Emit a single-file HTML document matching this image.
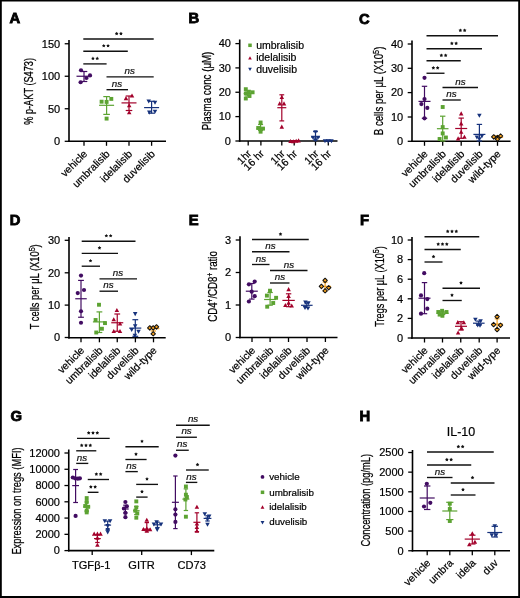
<!DOCTYPE html>
<html><head><meta charset="utf-8"><style>
html,body{margin:0;padding:0;background:#fff;}
body{width:520px;height:598px;overflow:hidden;}
svg{display:block;font-family:"Liberation Sans", sans-serif;will-change:transform;}
</style></head><body>
<svg width="520" height="598" viewBox="0 0 520 598">
<rect x="0" y="0" width="520" height="598" fill="#fff"/>
<path d="M0 0H520V598H0Z M1.8 1.6V596.1H518.2V1.6Z" fill="#000" fill-rule="evenodd"/>
<text x="9.6" y="23.4" font-size="14.8" font-weight="bold" stroke="#000" stroke-width="0.85">A</text>
<line x1="69" y1="40" x2="69" y2="142.1" stroke="#000" stroke-width="1.6"/>
<line x1="68.2" y1="141.3" x2="166" y2="141.3" stroke="#000" stroke-width="1.6"/>
<line x1="64.7" y1="43.75" x2="69" y2="43.75" stroke="#000" stroke-width="1.3"/>
<text x="60.2" y="47.5" font-size="11" text-anchor="end" stroke="#000" stroke-width="0.2">150</text>
<line x1="64.7" y1="76.25" x2="69" y2="76.25" stroke="#000" stroke-width="1.3"/>
<text x="60.2" y="80" font-size="11" text-anchor="end" stroke="#000" stroke-width="0.2">100</text>
<line x1="64.7" y1="108.75" x2="69" y2="108.75" stroke="#000" stroke-width="1.3"/>
<text x="60.2" y="112.5" font-size="11" text-anchor="end" stroke="#000" stroke-width="0.2">50</text>
<line x1="64.7" y1="141.3" x2="69" y2="141.3" stroke="#000" stroke-width="1.3"/>
<text x="60.2" y="145.05" font-size="11" text-anchor="end" stroke="#000" stroke-width="0.2">0</text>
<line x1="84" y1="141.3" x2="84" y2="145.8" stroke="#000" stroke-width="1.3"/>
<line x1="106.5" y1="141.3" x2="106.5" y2="145.8" stroke="#000" stroke-width="1.3"/>
<line x1="129" y1="141.3" x2="129" y2="145.8" stroke="#000" stroke-width="1.3"/>
<line x1="151.6" y1="141.3" x2="151.6" y2="145.8" stroke="#000" stroke-width="1.3"/>
<text x="0" y="0" font-size="12.5" text-anchor="middle" stroke="#000" stroke-width="0.25" transform="translate(33.1 91.4) rotate(-90) scale(0.7356 1)">% p-AKT (S473)</text>
<text x="88" y="154.5" font-size="10.5" text-anchor="end" transform="rotate(-45 88 154.5)" stroke="#000" stroke-width="0.2">vehicle</text>
<text x="110.5" y="154.5" font-size="10.5" text-anchor="end" transform="rotate(-45 110.5 154.5)" stroke="#000" stroke-width="0.2">umbralisib</text>
<text x="133" y="154.5" font-size="10.5" text-anchor="end" transform="rotate(-45 133 154.5)" stroke="#000" stroke-width="0.2">idelalisib</text>
<text x="155.6" y="154.5" font-size="10.5" text-anchor="end" transform="rotate(-45 155.6 154.5)" stroke="#000" stroke-width="0.2">duvelisib</text>
<line x1="83.3" y1="39" x2="153.7" y2="39" stroke="#111" stroke-width="1.35"/>
<polygon points="116.65,31.7 117.26,32.75 118.46,33.01 117.64,33.92 117.77,35.14 116.65,34.65 115.53,35.14 115.66,33.92 114.84,33.01 116.04,32.75" fill="#111"/>
<polygon points="120.95,31.7 121.56,32.75 122.76,33.01 121.94,33.92 122.07,35.14 120.95,34.65 119.83,35.14 119.96,33.92 119.14,33.01 120.34,32.75" fill="#111"/>
<line x1="83.3" y1="51.2" x2="127.8" y2="51.2" stroke="#111" stroke-width="1.35"/>
<polygon points="103.75,43.9 104.36,44.95 105.56,45.21 104.74,46.12 104.87,47.34 103.75,46.85 102.63,47.34 102.76,46.12 101.94,45.21 103.14,44.95" fill="#111"/>
<polygon points="108.05,43.9 108.66,44.95 109.86,45.21 109.04,46.12 109.17,47.34 108.05,46.85 106.93,47.34 107.06,46.12 106.24,45.21 107.44,44.95" fill="#111"/>
<line x1="83.3" y1="63.9" x2="106.6" y2="63.9" stroke="#111" stroke-width="1.35"/>
<polygon points="92.95,56.6 93.56,57.65 94.76,57.91 93.94,58.82 94.07,60.04 92.95,59.55 91.83,60.04 91.96,58.82 91.14,57.91 92.34,57.65" fill="#111"/>
<polygon points="97.25,56.6 97.86,57.65 99.06,57.91 98.24,58.82 98.37,60.04 97.25,59.55 96.13,60.04 96.26,58.82 95.44,57.91 96.64,57.65" fill="#111"/>
<line x1="106.5" y1="76.8" x2="153.7" y2="76.8" stroke="#111" stroke-width="1.35"/>
<text x="129.8" y="74" font-size="9.8" text-anchor="middle" font-style="italic" fill="#111" stroke="#111" stroke-width="0.2">ns</text>
<line x1="106.5" y1="89.7" x2="128" y2="89.7" stroke="#111" stroke-width="1.35"/>
<text x="117" y="86.9" font-size="9.8" text-anchor="middle" font-style="italic" fill="#111" stroke="#111" stroke-width="0.2">ns</text>
<line x1="84" y1="71.5" x2="84" y2="81.5" stroke="#420c62" stroke-width="1.2"/>
<line x1="80.7" y1="71.5" x2="87.3" y2="71.5" stroke="#420c62" stroke-width="1.2"/>
<line x1="80.7" y1="81.5" x2="87.3" y2="81.5" stroke="#420c62" stroke-width="1.2"/>
<line x1="76.5" y1="76.25" x2="91.5" y2="76.25" stroke="#420c62" stroke-width="1.2"/>
<circle cx="81" cy="70.25" r="2.1" fill="#420c62"/>
<circle cx="90" cy="75.4" r="2.1" fill="#420c62"/>
<circle cx="86.5" cy="78" r="2.1" fill="#420c62"/>
<circle cx="80.6" cy="82.25" r="2.1" fill="#420c62"/>
<line x1="106.6" y1="96.6" x2="106.6" y2="114.4" stroke="#5ca332" stroke-width="1.2"/>
<line x1="103.3" y1="96.6" x2="109.9" y2="96.6" stroke="#5ca332" stroke-width="1.2"/>
<line x1="103.3" y1="114.4" x2="109.9" y2="114.4" stroke="#5ca332" stroke-width="1.2"/>
<line x1="99.1" y1="105.3" x2="114.1" y2="105.3" stroke="#5ca332" stroke-width="1.2"/>
<rect x="99.65" y="99.75" width="3.9" height="3.9" fill="#5ca332"/>
<rect x="104.65" y="99.95" width="3.9" height="3.9" fill="#5ca332"/>
<rect x="109.35" y="96.95" width="3.9" height="3.9" fill="#5ca332"/>
<rect x="104.65" y="116.65" width="3.9" height="3.9" fill="#5ca332"/>
<line x1="129" y1="96" x2="129" y2="110.5" stroke="#a3022b" stroke-width="1.2"/>
<line x1="125.7" y1="96" x2="132.3" y2="96" stroke="#a3022b" stroke-width="1.2"/>
<line x1="125.7" y1="110.5" x2="132.3" y2="110.5" stroke="#a3022b" stroke-width="1.2"/>
<line x1="121.5" y1="102.9" x2="136.5" y2="102.9" stroke="#a3022b" stroke-width="1.2"/>
<path d="M126 96.04L128.26 100.13L123.74 100.13Z" fill="#a3022b"/>
<path d="M132 93.44L134.26 97.53L129.74 97.53Z" fill="#a3022b"/>
<path d="M129.2 103.24L131.46 107.33L126.94 107.33Z" fill="#a3022b"/>
<path d="M129.2 110.14L131.46 114.23L126.94 114.23Z" fill="#a3022b"/>
<line x1="151.6" y1="101.3" x2="151.6" y2="113.2" stroke="#16327c" stroke-width="1.2"/>
<line x1="148.3" y1="101.3" x2="154.9" y2="101.3" stroke="#16327c" stroke-width="1.2"/>
<line x1="148.3" y1="113.2" x2="154.9" y2="113.2" stroke="#16327c" stroke-width="1.2"/>
<line x1="144.1" y1="107.6" x2="159.1" y2="107.6" stroke="#16327c" stroke-width="1.2"/>
<path d="M148.7 103.56L150.96 99.47L146.44 99.47Z" fill="#16327c"/>
<path d="M155 104.76L157.26 100.67L152.74 100.67Z" fill="#16327c"/>
<path d="M149.3 114.66L151.56 110.57L147.04 110.57Z" fill="#16327c"/>
<path d="M155 113.76L157.26 109.67L152.74 109.67Z" fill="#16327c"/>
<text x="188.6" y="22.9" font-size="14.8" font-weight="bold" stroke="#000" stroke-width="0.85">B</text>
<line x1="239.7" y1="39.5" x2="239.7" y2="141.8" stroke="#000" stroke-width="1.6"/>
<line x1="238.9" y1="141" x2="337.5" y2="141" stroke="#000" stroke-width="1.6"/>
<line x1="235.4" y1="43.6" x2="239.7" y2="43.6" stroke="#000" stroke-width="1.3"/>
<text x="230.9" y="47.35" font-size="11" text-anchor="end" stroke="#000" stroke-width="0.2">40</text>
<line x1="235.4" y1="67.9" x2="239.7" y2="67.9" stroke="#000" stroke-width="1.3"/>
<text x="230.9" y="71.65" font-size="11" text-anchor="end" stroke="#000" stroke-width="0.2">30</text>
<line x1="235.4" y1="92.25" x2="239.7" y2="92.25" stroke="#000" stroke-width="1.3"/>
<text x="230.9" y="96" font-size="11" text-anchor="end" stroke="#000" stroke-width="0.2">20</text>
<line x1="235.4" y1="116.6" x2="239.7" y2="116.6" stroke="#000" stroke-width="1.3"/>
<text x="230.9" y="120.35" font-size="11" text-anchor="end" stroke="#000" stroke-width="0.2">10</text>
<line x1="235.4" y1="141" x2="239.7" y2="141" stroke="#000" stroke-width="1.3"/>
<text x="230.9" y="144.75" font-size="11" text-anchor="end" stroke="#000" stroke-width="0.2">0</text>
<line x1="248.2" y1="141" x2="248.2" y2="145.5" stroke="#000" stroke-width="1.3"/>
<line x1="260.9" y1="141" x2="260.9" y2="145.5" stroke="#000" stroke-width="1.3"/>
<line x1="281.8" y1="141" x2="281.8" y2="145.5" stroke="#000" stroke-width="1.3"/>
<line x1="294.2" y1="141" x2="294.2" y2="145.5" stroke="#000" stroke-width="1.3"/>
<line x1="315.5" y1="141" x2="315.5" y2="145.5" stroke="#000" stroke-width="1.3"/>
<line x1="328.3" y1="141" x2="328.3" y2="145.5" stroke="#000" stroke-width="1.3"/>
<text x="0" y="0" font-size="12.5" text-anchor="middle" stroke="#000" stroke-width="0.25" transform="translate(211.2 91) rotate(-90) scale(0.7802 1)">Plasma conc (μM)</text>
<rect x="248.25" y="43.54" width="3.51" height="3.51" fill="#5ca332"/>
<text x="256.2" y="49" font-size="10.5" stroke="#000" stroke-width="0.2">umbralisib</text>
<path d="M250 56.29L251.81 59.56L248.19 59.56Z" fill="#a3022b"/>
<text x="256.2" y="61.3" font-size="10.5" stroke="#000" stroke-width="0.2">idelalisib</text>
<path d="M250 71.01L251.81 67.74L248.19 67.74Z" fill="#16327c"/>
<text x="256.2" y="72.7" font-size="10.5" stroke="#000" stroke-width="0.2">duvelisib</text>
<text x="252" y="154.2" font-size="10.5" text-anchor="end" transform="rotate(-45 252 154.2)" stroke="#000" stroke-width="0.2">1hr</text>
<text x="264.7" y="154.2" font-size="10.5" text-anchor="end" transform="rotate(-45 264.7 154.2)" stroke="#000" stroke-width="0.2">16 hr</text>
<text x="285.6" y="154.2" font-size="10.5" text-anchor="end" transform="rotate(-45 285.6 154.2)" stroke="#000" stroke-width="0.2">1hr</text>
<text x="298" y="154.2" font-size="10.5" text-anchor="end" transform="rotate(-45 298 154.2)" stroke="#000" stroke-width="0.2">16 hr</text>
<text x="319.3" y="154.2" font-size="10.5" text-anchor="end" transform="rotate(-45 319.3 154.2)" stroke="#000" stroke-width="0.2">1hr</text>
<text x="332.1" y="154.2" font-size="10.5" text-anchor="end" transform="rotate(-45 332.1 154.2)" stroke="#000" stroke-width="0.2">16 hr</text>
<line x1="247.7" y1="91" x2="247.7" y2="96" stroke="#5ca332" stroke-width="1.2"/>
<line x1="245.2" y1="91" x2="250.2" y2="91" stroke="#5ca332" stroke-width="1.2"/>
<line x1="245.2" y1="96" x2="250.2" y2="96" stroke="#5ca332" stroke-width="1.2"/>
<line x1="243.7" y1="93.5" x2="251.7" y2="93.5" stroke="#5ca332" stroke-width="1.2"/>
<rect x="243.85" y="87.25" width="3.9" height="3.9" fill="#5ca332"/>
<rect x="246.95" y="89.75" width="3.9" height="3.9" fill="#5ca332"/>
<rect x="250.65" y="90.35" width="3.9" height="3.9" fill="#5ca332"/>
<rect x="243.85" y="91.55" width="3.9" height="3.9" fill="#5ca332"/>
<rect x="247.55" y="94.05" width="3.9" height="3.9" fill="#5ca332"/>
<rect x="243.85" y="96.55" width="3.9" height="3.9" fill="#5ca332"/>
<line x1="260.6" y1="124.5" x2="260.6" y2="130.5" stroke="#5ca332" stroke-width="1.2"/>
<line x1="258.1" y1="124.5" x2="263.1" y2="124.5" stroke="#5ca332" stroke-width="1.2"/>
<line x1="258.1" y1="130.5" x2="263.1" y2="130.5" stroke="#5ca332" stroke-width="1.2"/>
<line x1="256.6" y1="128.6" x2="264.6" y2="128.6" stroke="#5ca332" stroke-width="1.2"/>
<rect x="258.65" y="120.55" width="3.9" height="3.9" fill="#5ca332"/>
<rect x="256.25" y="126.05" width="3.9" height="3.9" fill="#5ca332"/>
<rect x="261.05" y="126.65" width="3.9" height="3.9" fill="#5ca332"/>
<rect x="258.65" y="129.75" width="3.9" height="3.9" fill="#5ca332"/>
<line x1="281.8" y1="94.8" x2="281.8" y2="120.9" stroke="#a3022b" stroke-width="1.2"/>
<line x1="279.4" y1="94.8" x2="284.2" y2="94.8" stroke="#a3022b" stroke-width="1.2"/>
<line x1="279.4" y1="120.9" x2="284.2" y2="120.9" stroke="#a3022b" stroke-width="1.2"/>
<line x1="277.3" y1="107.7" x2="286.3" y2="107.7" stroke="#a3022b" stroke-width="1.2"/>
<path d="M281.8 94.94L284.06 99.03L279.54 99.03Z" fill="#a3022b"/>
<path d="M279.7 101.34L281.96 105.43L277.44 105.43Z" fill="#a3022b"/>
<path d="M284 101.34L286.26 105.43L281.74 105.43Z" fill="#a3022b"/>
<path d="M281.8 124.54L284.06 128.63L279.54 128.63Z" fill="#a3022b"/>
<line x1="294.2" y1="140.7" x2="294.2" y2="141.3" stroke="#a3022b" stroke-width="1.2"/>
<line x1="292.2" y1="140.7" x2="296.2" y2="140.7" stroke="#a3022b" stroke-width="1.2"/>
<line x1="292.2" y1="141.3" x2="296.2" y2="141.3" stroke="#a3022b" stroke-width="1.2"/>
<line x1="290" y1="141" x2="298.4" y2="141" stroke="#a3022b" stroke-width="1.2"/>
<path d="M290.5 138.94L292.76 143.03L288.24 143.03Z" fill="#a3022b"/>
<path d="M293.3 139.14L295.56 143.23L291.04 143.23Z" fill="#a3022b"/>
<path d="M296.2 138.74L298.46 142.83L293.94 142.83Z" fill="#a3022b"/>
<path d="M298.6 138.34L300.86 142.43L296.34 142.43Z" fill="#a3022b"/>
<line x1="315.5" y1="131.6" x2="315.5" y2="140" stroke="#16327c" stroke-width="1.2"/>
<line x1="313.1" y1="131.6" x2="317.9" y2="131.6" stroke="#16327c" stroke-width="1.2"/>
<line x1="313.1" y1="140" x2="317.9" y2="140" stroke="#16327c" stroke-width="1.2"/>
<line x1="311" y1="137" x2="320" y2="137" stroke="#16327c" stroke-width="1.2"/>
<path d="M315.5 134.26L317.76 130.17L313.24 130.17Z" fill="#16327c"/>
<path d="M313 139.76L315.26 135.67L310.74 135.67Z" fill="#16327c"/>
<path d="M318 139.76L320.26 135.67L315.74 135.67Z" fill="#16327c"/>
<path d="M315.5 142.26L317.76 138.17L313.24 138.17Z" fill="#16327c"/>
<line x1="328.3" y1="140.2" x2="328.3" y2="141" stroke="#16327c" stroke-width="1.2"/>
<line x1="325.9" y1="140.2" x2="330.7" y2="140.2" stroke="#16327c" stroke-width="1.2"/>
<line x1="325.9" y1="141" x2="330.7" y2="141" stroke="#16327c" stroke-width="1.2"/>
<line x1="323.8" y1="140.6" x2="332.8" y2="140.6" stroke="#16327c" stroke-width="1.2"/>
<path d="M325 143.26L327.26 139.17L322.74 139.17Z" fill="#16327c"/>
<path d="M328.3 143.46L330.56 139.37L326.04 139.37Z" fill="#16327c"/>
<path d="M331.5 143.26L333.76 139.17L329.24 139.17Z" fill="#16327c"/>
<text x="359.1" y="23.6" font-size="14.8" font-weight="bold" stroke="#000" stroke-width="0.85">C</text>
<line x1="412" y1="40.5" x2="412" y2="142.1" stroke="#000" stroke-width="1.6"/>
<line x1="411.2" y1="141.3" x2="510.6" y2="141.3" stroke="#000" stroke-width="1.6"/>
<line x1="407.7" y1="44" x2="412" y2="44" stroke="#000" stroke-width="1.3"/>
<text x="403.2" y="47.75" font-size="11" text-anchor="end" stroke="#000" stroke-width="0.2">40</text>
<line x1="407.7" y1="68.3" x2="412" y2="68.3" stroke="#000" stroke-width="1.3"/>
<text x="403.2" y="72.05" font-size="11" text-anchor="end" stroke="#000" stroke-width="0.2">30</text>
<line x1="407.7" y1="92.6" x2="412" y2="92.6" stroke="#000" stroke-width="1.3"/>
<text x="403.2" y="96.35" font-size="11" text-anchor="end" stroke="#000" stroke-width="0.2">20</text>
<line x1="407.7" y1="117" x2="412" y2="117" stroke="#000" stroke-width="1.3"/>
<text x="403.2" y="120.75" font-size="11" text-anchor="end" stroke="#000" stroke-width="0.2">10</text>
<line x1="407.7" y1="141.3" x2="412" y2="141.3" stroke="#000" stroke-width="1.3"/>
<text x="403.2" y="145.05" font-size="11" text-anchor="end" stroke="#000" stroke-width="0.2">0</text>
<line x1="424.5" y1="141.3" x2="424.5" y2="145.8" stroke="#000" stroke-width="1.3"/>
<line x1="442.7" y1="141.3" x2="442.7" y2="145.8" stroke="#000" stroke-width="1.3"/>
<line x1="461.2" y1="141.3" x2="461.2" y2="145.8" stroke="#000" stroke-width="1.3"/>
<line x1="479.4" y1="141.3" x2="479.4" y2="145.8" stroke="#000" stroke-width="1.3"/>
<line x1="497.5" y1="141.3" x2="497.5" y2="145.8" stroke="#000" stroke-width="1.3"/>
<text x="0" y="0" font-size="12.5" text-anchor="middle" stroke="#000" stroke-width="0.25" transform="translate(383.3 90.9) rotate(-90) scale(0.7718 1)">B cells per μL (X10<tspan dy="-4.8" font-size="9.5">5</tspan><tspan dy="4.8">)</tspan></text>
<text x="428.5" y="154.5" font-size="10.5" text-anchor="end" transform="rotate(-45 428.5 154.5)" stroke="#000" stroke-width="0.2">vehicle</text>
<text x="446.7" y="154.5" font-size="10.5" text-anchor="end" transform="rotate(-45 446.7 154.5)" stroke="#000" stroke-width="0.2">umbralisib</text>
<text x="465.2" y="154.5" font-size="10.5" text-anchor="end" transform="rotate(-45 465.2 154.5)" stroke="#000" stroke-width="0.2">idelalisib</text>
<text x="483.4" y="154.5" font-size="10.5" text-anchor="end" transform="rotate(-45 483.4 154.5)" stroke="#000" stroke-width="0.2">duvelisib</text>
<text x="501.5" y="154.5" font-size="10.5" text-anchor="end" transform="rotate(-45 501.5 154.5)" stroke="#000" stroke-width="0.2">wild-type</text>
<line x1="426.5" y1="35.75" x2="498" y2="35.75" stroke="#111" stroke-width="1.35"/>
<polygon points="460.35,28.45 460.96,29.5 462.16,29.76 461.34,30.67 461.47,31.89 460.35,31.4 459.23,31.89 459.36,30.67 458.54,29.76 459.74,29.5" fill="#111"/>
<polygon points="464.65,28.45 465.26,29.5 466.46,29.76 465.64,30.67 465.77,31.89 464.65,31.4 463.53,31.89 463.66,30.67 462.84,29.76 464.04,29.5" fill="#111"/>
<line x1="426.5" y1="48.75" x2="482" y2="48.75" stroke="#111" stroke-width="1.35"/>
<polygon points="451.85,41.45 452.46,42.5 453.66,42.76 452.84,43.67 452.97,44.89 451.85,44.4 450.73,44.89 450.86,43.67 450.04,42.76 451.24,42.5" fill="#111"/>
<polygon points="456.15,41.45 456.76,42.5 457.96,42.76 457.14,43.67 457.27,44.89 456.15,44.4 455.03,44.89 455.16,43.67 454.34,42.76 455.54,42.5" fill="#111"/>
<line x1="426.5" y1="60.75" x2="460.75" y2="60.75" stroke="#111" stroke-width="1.35"/>
<polygon points="441.35,53.45 441.96,54.5 443.16,54.76 442.34,55.67 442.47,56.89 441.35,56.4 440.23,56.89 440.36,55.67 439.54,54.76 440.74,54.5" fill="#111"/>
<polygon points="445.65,53.45 446.26,54.5 447.46,54.76 446.64,55.67 446.77,56.89 445.65,56.4 444.53,56.89 444.66,55.67 443.84,54.76 445.04,54.5" fill="#111"/>
<line x1="426.5" y1="73.25" x2="444.5" y2="73.25" stroke="#111" stroke-width="1.35"/>
<polygon points="433.35,65.95 433.96,67 435.16,67.26 434.34,68.17 434.47,69.39 433.35,68.89 432.23,69.39 432.36,68.17 431.54,67.26 432.74,67" fill="#111"/>
<polygon points="437.65,65.95 438.26,67 439.46,67.26 438.64,68.17 438.77,69.39 437.65,68.89 436.53,69.39 436.66,68.17 435.84,67.26 437.04,67" fill="#111"/>
<line x1="442.5" y1="87.5" x2="478" y2="87.5" stroke="#111" stroke-width="1.35"/>
<text x="460.5" y="84.7" font-size="9.8" text-anchor="middle" font-style="italic" fill="#111" stroke="#111" stroke-width="0.2">ns</text>
<line x1="442.5" y1="100" x2="460.75" y2="100" stroke="#111" stroke-width="1.35"/>
<text x="451.5" y="97.2" font-size="9.8" text-anchor="middle" font-style="italic" fill="#111" stroke="#111" stroke-width="0.2">ns</text>
<line x1="424.5" y1="86.3" x2="424.5" y2="118.3" stroke="#420c62" stroke-width="1.2"/>
<line x1="421.8" y1="86.3" x2="427.2" y2="86.3" stroke="#420c62" stroke-width="1.2"/>
<line x1="421.8" y1="118.3" x2="427.2" y2="118.3" stroke="#420c62" stroke-width="1.2"/>
<line x1="418.5" y1="101.4" x2="430.5" y2="101.4" stroke="#420c62" stroke-width="1.2"/>
<circle cx="424.5" cy="77.8" r="2.1" fill="#420c62"/>
<circle cx="424.5" cy="99.1" r="2.1" fill="#420c62"/>
<circle cx="421.4" cy="104.1" r="2.1" fill="#420c62"/>
<circle cx="427.3" cy="107.9" r="2.1" fill="#420c62"/>
<circle cx="424.5" cy="118.3" r="2.1" fill="#420c62"/>
<line x1="442.7" y1="116.2" x2="442.7" y2="141" stroke="#5ca332" stroke-width="1.2"/>
<line x1="440" y1="116.2" x2="445.4" y2="116.2" stroke="#5ca332" stroke-width="1.2"/>
<line x1="440" y1="141" x2="445.4" y2="141" stroke="#5ca332" stroke-width="1.2"/>
<line x1="436.9" y1="128.7" x2="448.5" y2="128.7" stroke="#5ca332" stroke-width="1.2"/>
<rect x="440.75" y="105.05" width="3.9" height="3.9" fill="#5ca332"/>
<rect x="440.75" y="125.15" width="3.9" height="3.9" fill="#5ca332"/>
<rect x="440.75" y="131.45" width="3.9" height="3.9" fill="#5ca332"/>
<rect x="443.95" y="135.55" width="3.9" height="3.9" fill="#5ca332"/>
<rect x="437.65" y="137.05" width="3.9" height="3.9" fill="#5ca332"/>
<line x1="461.2" y1="118.1" x2="461.2" y2="138.3" stroke="#a3022b" stroke-width="1.2"/>
<line x1="458.5" y1="118.1" x2="463.9" y2="118.1" stroke="#a3022b" stroke-width="1.2"/>
<line x1="458.5" y1="138.3" x2="463.9" y2="138.3" stroke="#a3022b" stroke-width="1.2"/>
<line x1="455.2" y1="128.5" x2="467.2" y2="128.5" stroke="#a3022b" stroke-width="1.2"/>
<path d="M461.2 111.34L463.46 115.43L458.94 115.43Z" fill="#a3022b"/>
<path d="M461.2 121.34L463.46 125.43L458.94 125.43Z" fill="#a3022b"/>
<path d="M461.2 129.74L463.46 133.83L458.94 133.83Z" fill="#a3022b"/>
<path d="M458.1 136.34L460.36 140.43L455.84 140.43Z" fill="#a3022b"/>
<path d="M464.4 134.74L466.66 138.83L462.14 138.83Z" fill="#a3022b"/>
<line x1="479.4" y1="124.4" x2="479.4" y2="141" stroke="#16327c" stroke-width="1.2"/>
<line x1="476.7" y1="124.4" x2="482.1" y2="124.4" stroke="#16327c" stroke-width="1.2"/>
<line x1="476.7" y1="141" x2="482.1" y2="141" stroke="#16327c" stroke-width="1.2"/>
<line x1="473.4" y1="134.4" x2="485.4" y2="134.4" stroke="#16327c" stroke-width="1.2"/>
<path d="M479.4 117.86L481.66 113.77L477.14 113.77Z" fill="#16327c"/>
<path d="M476.9 139.56L479.16 135.47L474.64 135.47Z" fill="#16327c"/>
<path d="M481.9 138.46L484.16 134.37L479.64 134.37Z" fill="#16327c"/>
<path d="M479.4 141.26L481.66 137.17L477.14 137.17Z" fill="#16327c"/>
<line x1="497.5" y1="135.8" x2="497.5" y2="139" stroke="#f3a01f" stroke-width="1.2"/>
<line x1="495.1" y1="135.8" x2="499.9" y2="135.8" stroke="#f3a01f" stroke-width="1.2"/>
<line x1="495.1" y1="139" x2="499.9" y2="139" stroke="#f3a01f" stroke-width="1.2"/>
<line x1="491.9" y1="137.3" x2="503.1" y2="137.3" stroke="#f3a01f" stroke-width="1.2"/>
<path d="M493.75 134.7L495.95 136.9L493.75 139.1L491.55 136.9Z" fill="#f3a01f" stroke="#111" stroke-width="1.05" stroke-linejoin="round"/>
<path d="M497.5 135.3L499.7 137.5L497.5 139.7L495.3 137.5Z" fill="#f3a01f" stroke="#111" stroke-width="1.05" stroke-linejoin="round"/>
<path d="M500.6 133.8L502.8 136L500.6 138.2L498.4 136Z" fill="#f3a01f" stroke="#111" stroke-width="1.05" stroke-linejoin="round"/>
<path d="M497.5 137L499.7 139.2L497.5 141.4L495.3 139.2Z" fill="#f3a01f" stroke="#111" stroke-width="1.05" stroke-linejoin="round"/>
<text x="9.8" y="224.6" font-size="14.8" font-weight="bold" stroke="#000" stroke-width="0.85">D</text>
<line x1="69" y1="237.1" x2="69" y2="338.6" stroke="#000" stroke-width="1.6"/>
<line x1="68.2" y1="337.8" x2="165.7" y2="337.8" stroke="#000" stroke-width="1.6"/>
<line x1="64.7" y1="240.3" x2="69" y2="240.3" stroke="#000" stroke-width="1.3"/>
<text x="60.2" y="244.05" font-size="11" text-anchor="end" stroke="#000" stroke-width="0.2">30</text>
<line x1="64.7" y1="272.8" x2="69" y2="272.8" stroke="#000" stroke-width="1.3"/>
<text x="60.2" y="276.55" font-size="11" text-anchor="end" stroke="#000" stroke-width="0.2">20</text>
<line x1="64.7" y1="305.1" x2="69" y2="305.1" stroke="#000" stroke-width="1.3"/>
<text x="60.2" y="308.85" font-size="11" text-anchor="end" stroke="#000" stroke-width="0.2">10</text>
<line x1="64.7" y1="337.5" x2="69" y2="337.5" stroke="#000" stroke-width="1.3"/>
<text x="60.2" y="341.25" font-size="11" text-anchor="end" stroke="#000" stroke-width="0.2">0</text>
<line x1="81" y1="337.8" x2="81" y2="342.3" stroke="#000" stroke-width="1.3"/>
<line x1="99.4" y1="337.8" x2="99.4" y2="342.3" stroke="#000" stroke-width="1.3"/>
<line x1="117.25" y1="337.8" x2="117.25" y2="342.3" stroke="#000" stroke-width="1.3"/>
<line x1="135.4" y1="337.8" x2="135.4" y2="342.3" stroke="#000" stroke-width="1.3"/>
<line x1="153.5" y1="337.8" x2="153.5" y2="342.3" stroke="#000" stroke-width="1.3"/>
<text x="0" y="0" font-size="12.5" text-anchor="middle" stroke="#000" stroke-width="0.25" transform="translate(39.3 286.8) rotate(-90) scale(0.747 1)">T cells per μL (X10<tspan dy="-4.8" font-size="9.5">5</tspan><tspan dy="4.8">)</tspan></text>
<text x="85" y="351" font-size="10.5" text-anchor="end" transform="rotate(-45 85 351)" stroke="#000" stroke-width="0.2">vehicle</text>
<text x="103.4" y="351" font-size="10.5" text-anchor="end" transform="rotate(-45 103.4 351)" stroke="#000" stroke-width="0.2">umbralisib</text>
<text x="121.25" y="351" font-size="10.5" text-anchor="end" transform="rotate(-45 121.25 351)" stroke="#000" stroke-width="0.2">idelalisib</text>
<text x="139.4" y="351" font-size="10.5" text-anchor="end" transform="rotate(-45 139.4 351)" stroke="#000" stroke-width="0.2">duvelisib</text>
<text x="157.5" y="351" font-size="10.5" text-anchor="end" transform="rotate(-45 157.5 351)" stroke="#000" stroke-width="0.2">wild-type</text>
<line x1="81.7" y1="241.2" x2="135.5" y2="241.2" stroke="#111" stroke-width="1.35"/>
<polygon points="106.35,233.9 106.96,234.95 108.16,235.21 107.34,236.12 107.47,237.34 106.35,236.84 105.23,237.34 105.36,236.12 104.54,235.21 105.74,234.95" fill="#111"/>
<polygon points="110.65,233.9 111.26,234.95 112.46,235.21 111.64,236.12 111.77,237.34 110.65,236.84 109.53,237.34 109.66,236.12 108.84,235.21 110.04,234.95" fill="#111"/>
<line x1="81.7" y1="253.3" x2="118" y2="253.3" stroke="#111" stroke-width="1.35"/>
<polygon points="99.5,246 100.11,247.05 101.31,247.31 100.49,248.22 100.62,249.44 99.5,248.94 98.38,249.44 98.51,248.22 97.69,247.31 98.89,247.05" fill="#111"/>
<line x1="81.7" y1="266.2" x2="100" y2="266.2" stroke="#111" stroke-width="1.35"/>
<polygon points="90.5,258.9 91.11,259.95 92.31,260.21 91.49,261.12 91.62,262.34 90.5,261.85 89.38,262.34 89.51,261.12 88.69,260.21 89.89,259.95" fill="#111"/>
<line x1="99.5" y1="278.8" x2="137" y2="278.8" stroke="#111" stroke-width="1.35"/>
<text x="118" y="276" font-size="9.8" text-anchor="middle" font-style="italic" fill="#111" stroke="#111" stroke-width="0.2">ns</text>
<line x1="99.5" y1="291.2" x2="118" y2="291.2" stroke="#111" stroke-width="1.35"/>
<text x="108.5" y="288.4" font-size="9.8" text-anchor="middle" font-style="italic" fill="#111" stroke="#111" stroke-width="0.2">ns</text>
<line x1="81" y1="280.4" x2="81" y2="317.25" stroke="#420c62" stroke-width="1.2"/>
<line x1="78.1" y1="280.4" x2="83.9" y2="280.4" stroke="#420c62" stroke-width="1.2"/>
<line x1="78.1" y1="317.25" x2="83.9" y2="317.25" stroke="#420c62" stroke-width="1.2"/>
<line x1="75.25" y1="298.75" x2="86.75" y2="298.75" stroke="#420c62" stroke-width="1.2"/>
<circle cx="81" cy="275.6" r="2.1" fill="#420c62"/>
<circle cx="84" cy="290" r="2.1" fill="#420c62"/>
<circle cx="77.75" cy="293.1" r="2.1" fill="#420c62"/>
<circle cx="81" cy="311.25" r="2.1" fill="#420c62"/>
<circle cx="81" cy="322.75" r="2.1" fill="#420c62"/>
<line x1="99.4" y1="311.9" x2="99.4" y2="332.5" stroke="#5ca332" stroke-width="1.2"/>
<line x1="96.5" y1="311.9" x2="102.3" y2="311.9" stroke="#5ca332" stroke-width="1.2"/>
<line x1="96.5" y1="332.5" x2="102.3" y2="332.5" stroke="#5ca332" stroke-width="1.2"/>
<line x1="92.9" y1="321.9" x2="105.9" y2="321.9" stroke="#5ca332" stroke-width="1.2"/>
<rect x="97.05" y="302.8" width="3.9" height="3.9" fill="#5ca332"/>
<rect x="93.65" y="318.05" width="3.9" height="3.9" fill="#5ca332"/>
<rect x="103.05" y="321.15" width="3.9" height="3.9" fill="#5ca332"/>
<rect x="99.95" y="326.8" width="3.9" height="3.9" fill="#5ca332"/>
<rect x="94.3" y="330.55" width="3.9" height="3.9" fill="#5ca332"/>
<line x1="117.25" y1="314" x2="117.25" y2="331.25" stroke="#a3022b" stroke-width="1.2"/>
<line x1="114.35" y1="314" x2="120.15" y2="314" stroke="#a3022b" stroke-width="1.2"/>
<line x1="114.35" y1="331.25" x2="120.15" y2="331.25" stroke="#a3022b" stroke-width="1.2"/>
<line x1="111.25" y1="322.75" x2="123.25" y2="322.75" stroke="#a3022b" stroke-width="1.2"/>
<path d="M116.9 307.99L119.16 312.08L114.64 312.08Z" fill="#a3022b"/>
<path d="M113.75 317.14L116.01 321.23L111.49 321.23Z" fill="#a3022b"/>
<path d="M120 321.49L122.26 325.58L117.74 325.58Z" fill="#a3022b"/>
<path d="M113.75 328.99L116.01 333.08L111.49 333.08Z" fill="#a3022b"/>
<path d="M120 328.99L122.26 333.08L117.74 333.08Z" fill="#a3022b"/>
<line x1="135.3" y1="319.7" x2="135.3" y2="336.3" stroke="#16327c" stroke-width="1.2"/>
<line x1="132.4" y1="319.7" x2="138.2" y2="319.7" stroke="#16327c" stroke-width="1.2"/>
<line x1="132.4" y1="336.3" x2="138.2" y2="336.3" stroke="#16327c" stroke-width="1.2"/>
<line x1="129.3" y1="328.1" x2="141.3" y2="328.1" stroke="#16327c" stroke-width="1.2"/>
<path d="M135.2 316.16L137.46 312.07L132.94 312.07Z" fill="#16327c"/>
<path d="M135.2 328.46L137.46 324.37L132.94 324.37Z" fill="#16327c"/>
<path d="M131.7 332.06L133.96 327.97L129.44 327.97Z" fill="#16327c"/>
<path d="M138.5 333.76L140.76 329.67L136.24 329.67Z" fill="#16327c"/>
<path d="M134.9 337.86L137.16 333.77L132.64 333.77Z" fill="#16327c"/>
<line x1="153.4" y1="327" x2="153.4" y2="331" stroke="#f3a01f" stroke-width="1.2"/>
<line x1="150.8" y1="327" x2="156" y2="327" stroke="#f3a01f" stroke-width="1.2"/>
<line x1="150.8" y1="331" x2="156" y2="331" stroke="#f3a01f" stroke-width="1.2"/>
<line x1="147.4" y1="328.65" x2="159.4" y2="328.65" stroke="#f3a01f" stroke-width="1.2"/>
<path d="M149.8 325.7L152 327.9L149.8 330.1L147.6 327.9Z" fill="#f3a01f" stroke="#111" stroke-width="1.05" stroke-linejoin="round"/>
<path d="M153.2 325.7L155.4 327.9L153.2 330.1L151 327.9Z" fill="#f3a01f" stroke="#111" stroke-width="1.05" stroke-linejoin="round"/>
<path d="M156.5 324.7L158.7 326.9L156.5 329.1L154.3 326.9Z" fill="#f3a01f" stroke="#111" stroke-width="1.05" stroke-linejoin="round"/>
<path d="M153.2 331.6L155.4 333.8L153.2 336L151 333.8Z" fill="#f3a01f" stroke="#111" stroke-width="1.05" stroke-linejoin="round"/>
<text x="188.8" y="224.6" font-size="14.8" font-weight="bold" stroke="#000" stroke-width="0.85">E</text>
<line x1="240" y1="236.25" x2="240" y2="338.3" stroke="#000" stroke-width="1.6"/>
<line x1="239.2" y1="337.5" x2="337.5" y2="337.5" stroke="#000" stroke-width="1.6"/>
<line x1="235.7" y1="240" x2="240" y2="240" stroke="#000" stroke-width="1.3"/>
<text x="231.2" y="243.75" font-size="11" text-anchor="end" stroke="#000" stroke-width="0.2">3</text>
<line x1="235.7" y1="272.5" x2="240" y2="272.5" stroke="#000" stroke-width="1.3"/>
<text x="231.2" y="276.25" font-size="11" text-anchor="end" stroke="#000" stroke-width="0.2">2</text>
<line x1="235.7" y1="305" x2="240" y2="305" stroke="#000" stroke-width="1.3"/>
<text x="231.2" y="308.75" font-size="11" text-anchor="end" stroke="#000" stroke-width="0.2">1</text>
<line x1="235.7" y1="337.5" x2="240" y2="337.5" stroke="#000" stroke-width="1.3"/>
<text x="231.2" y="341.25" font-size="11" text-anchor="end" stroke="#000" stroke-width="0.2">0</text>
<line x1="252" y1="337.5" x2="252" y2="342" stroke="#000" stroke-width="1.3"/>
<line x1="270.1" y1="337.5" x2="270.1" y2="342" stroke="#000" stroke-width="1.3"/>
<line x1="288.5" y1="337.5" x2="288.5" y2="342" stroke="#000" stroke-width="1.3"/>
<line x1="307" y1="337.5" x2="307" y2="342" stroke="#000" stroke-width="1.3"/>
<line x1="325.4" y1="337.5" x2="325.4" y2="342" stroke="#000" stroke-width="1.3"/>
<text x="0" y="0" font-size="12.5" text-anchor="middle" stroke="#000" stroke-width="0.25" transform="translate(217 286.5) rotate(-90) scale(0.776 1)">CD4<tspan dy="-4.5" font-size="8.5">+</tspan><tspan dy="4.5">/CD8</tspan><tspan dy="-4.5" font-size="8.5">+</tspan><tspan dy="4.5"> ratio</tspan></text>
<text x="256" y="351" font-size="10.5" text-anchor="end" transform="rotate(-45 256 351)" stroke="#000" stroke-width="0.2">vehicle</text>
<text x="274.1" y="351" font-size="10.5" text-anchor="end" transform="rotate(-45 274.1 351)" stroke="#000" stroke-width="0.2">umbralisib</text>
<text x="292.5" y="351" font-size="10.5" text-anchor="end" transform="rotate(-45 292.5 351)" stroke="#000" stroke-width="0.2">idelalisib</text>
<text x="311" y="351" font-size="10.5" text-anchor="end" transform="rotate(-45 311 351)" stroke="#000" stroke-width="0.2">duvelisib</text>
<text x="329.4" y="351" font-size="10.5" text-anchor="end" transform="rotate(-45 329.4 351)" stroke="#000" stroke-width="0.2">wild-type</text>
<line x1="252" y1="239.5" x2="308.75" y2="239.5" stroke="#111" stroke-width="1.35"/>
<polygon points="280.5,232.2 281.11,233.25 282.31,233.51 281.49,234.42 281.62,235.64 280.5,235.14 279.38,235.64 279.51,234.42 278.69,233.51 279.89,233.25" fill="#111"/>
<line x1="252" y1="251.75" x2="289.5" y2="251.75" stroke="#111" stroke-width="1.35"/>
<text x="270.5" y="248.95" font-size="9.8" text-anchor="middle" font-style="italic" fill="#111" stroke="#111" stroke-width="0.2">ns</text>
<line x1="252" y1="264.5" x2="269.5" y2="264.5" stroke="#111" stroke-width="1.35"/>
<text x="261" y="261.7" font-size="9.8" text-anchor="middle" font-style="italic" fill="#111" stroke="#111" stroke-width="0.2">ns</text>
<line x1="270" y1="270.5" x2="307.5" y2="270.5" stroke="#111" stroke-width="1.35"/>
<text x="289" y="267.7" font-size="9.8" text-anchor="middle" font-style="italic" fill="#111" stroke="#111" stroke-width="0.2">ns</text>
<line x1="270" y1="283" x2="289.5" y2="283" stroke="#111" stroke-width="1.35"/>
<text x="280" y="280.2" font-size="9.8" text-anchor="middle" font-style="italic" fill="#111" stroke="#111" stroke-width="0.2">ns</text>
<line x1="251.8" y1="283.5" x2="251.8" y2="299.1" stroke="#420c62" stroke-width="1.2"/>
<line x1="249.1" y1="283.5" x2="254.5" y2="283.5" stroke="#420c62" stroke-width="1.2"/>
<line x1="249.1" y1="299.1" x2="254.5" y2="299.1" stroke="#420c62" stroke-width="1.2"/>
<line x1="245.8" y1="291.2" x2="257.8" y2="291.2" stroke="#420c62" stroke-width="1.2"/>
<circle cx="254.7" cy="281.6" r="2.1" fill="#420c62"/>
<circle cx="248.9" cy="284.3" r="2.1" fill="#420c62"/>
<circle cx="251.7" cy="291.7" r="2.1" fill="#420c62"/>
<circle cx="254.7" cy="296.2" r="2.1" fill="#420c62"/>
<circle cx="248.9" cy="301.5" r="2.1" fill="#420c62"/>
<line x1="270.1" y1="292.5" x2="270.1" y2="305.2" stroke="#5ca332" stroke-width="1.2"/>
<line x1="267.4" y1="292.5" x2="272.8" y2="292.5" stroke="#5ca332" stroke-width="1.2"/>
<line x1="267.4" y1="305.2" x2="272.8" y2="305.2" stroke="#5ca332" stroke-width="1.2"/>
<line x1="264.1" y1="299.5" x2="276.1" y2="299.5" stroke="#5ca332" stroke-width="1.2"/>
<rect x="268.05" y="288.75" width="3.9" height="3.9" fill="#5ca332"/>
<rect x="264.95" y="293.65" width="3.9" height="3.9" fill="#5ca332"/>
<rect x="274.15" y="295.85" width="3.9" height="3.9" fill="#5ca332"/>
<rect x="271.25" y="301.05" width="3.9" height="3.9" fill="#5ca332"/>
<rect x="265.25" y="304.75" width="3.9" height="3.9" fill="#5ca332"/>
<line x1="288.6" y1="293.8" x2="288.6" y2="306.7" stroke="#a3022b" stroke-width="1.2"/>
<line x1="285.9" y1="293.8" x2="291.3" y2="293.8" stroke="#a3022b" stroke-width="1.2"/>
<line x1="285.9" y1="306.7" x2="291.3" y2="306.7" stroke="#a3022b" stroke-width="1.2"/>
<line x1="282.4" y1="300.4" x2="294.8" y2="300.4" stroke="#a3022b" stroke-width="1.2"/>
<path d="M288.6 287.04L290.86 291.13L286.34 291.13Z" fill="#a3022b"/>
<path d="M288.6 293.94L290.86 298.03L286.34 298.03Z" fill="#a3022b"/>
<path d="M285.4 302.94L287.66 307.03L283.14 307.03Z" fill="#a3022b"/>
<path d="M291.7 303.44L293.96 307.53L289.44 307.53Z" fill="#a3022b"/>
<path d="M288.6 300.74L290.86 304.83L286.34 304.83Z" fill="#a3022b"/>
<line x1="306.8" y1="303" x2="306.8" y2="307.5" stroke="#16327c" stroke-width="1.2"/>
<line x1="304.4" y1="303" x2="309.2" y2="303" stroke="#16327c" stroke-width="1.2"/>
<line x1="304.4" y1="307.5" x2="309.2" y2="307.5" stroke="#16327c" stroke-width="1.2"/>
<line x1="301" y1="305.3" x2="312.6" y2="305.3" stroke="#16327c" stroke-width="1.2"/>
<path d="M305.4 304.56L307.66 300.47L303.14 300.47Z" fill="#16327c"/>
<path d="M308.4 305.26L310.66 301.17L306.14 301.17Z" fill="#16327c"/>
<path d="M305 310.06L307.26 305.97L302.74 305.97Z" fill="#16327c"/>
<path d="M308 310.56L310.26 306.47L305.74 306.47Z" fill="#16327c"/>
<line x1="325.1" y1="282.1" x2="325.1" y2="290.8" stroke="#f3a01f" stroke-width="1.2"/>
<line x1="322.7" y1="282.1" x2="327.5" y2="282.1" stroke="#f3a01f" stroke-width="1.2"/>
<line x1="322.7" y1="290.8" x2="327.5" y2="290.8" stroke="#f3a01f" stroke-width="1.2"/>
<line x1="319.1" y1="286.4" x2="331.1" y2="286.4" stroke="#f3a01f" stroke-width="1.2"/>
<path d="M325.1 278.2L327.3 280.4L325.1 282.6L322.9 280.4Z" fill="#f3a01f" stroke="#111" stroke-width="1.05" stroke-linejoin="round"/>
<path d="M321.4 284.2L323.6 286.4L321.4 288.6L319.2 286.4Z" fill="#f3a01f" stroke="#111" stroke-width="1.05" stroke-linejoin="round"/>
<path d="M328.7 285.5L330.9 287.7L328.7 289.9L326.5 287.7Z" fill="#f3a01f" stroke="#111" stroke-width="1.05" stroke-linejoin="round"/>
<path d="M325.1 288.6L327.3 290.8L325.1 293L322.9 290.8Z" fill="#f3a01f" stroke="#111" stroke-width="1.05" stroke-linejoin="round"/>
<text x="360.1" y="224.6" font-size="14.8" font-weight="bold" stroke="#000" stroke-width="0.85">F</text>
<line x1="412" y1="237" x2="412" y2="338.8" stroke="#000" stroke-width="1.6"/>
<line x1="411.2" y1="338" x2="510" y2="338" stroke="#000" stroke-width="1.6"/>
<line x1="407.7" y1="240" x2="412" y2="240" stroke="#000" stroke-width="1.3"/>
<text x="403.2" y="243.75" font-size="11" text-anchor="end" stroke="#000" stroke-width="0.2">10</text>
<line x1="407.7" y1="259.6" x2="412" y2="259.6" stroke="#000" stroke-width="1.3"/>
<text x="403.2" y="263.35" font-size="11" text-anchor="end" stroke="#000" stroke-width="0.2">8</text>
<line x1="407.7" y1="279.2" x2="412" y2="279.2" stroke="#000" stroke-width="1.3"/>
<text x="403.2" y="282.95" font-size="11" text-anchor="end" stroke="#000" stroke-width="0.2">6</text>
<line x1="407.7" y1="298.8" x2="412" y2="298.8" stroke="#000" stroke-width="1.3"/>
<text x="403.2" y="302.55" font-size="11" text-anchor="end" stroke="#000" stroke-width="0.2">4</text>
<line x1="407.7" y1="318.4" x2="412" y2="318.4" stroke="#000" stroke-width="1.3"/>
<text x="403.2" y="322.15" font-size="11" text-anchor="end" stroke="#000" stroke-width="0.2">2</text>
<line x1="407.7" y1="338" x2="412" y2="338" stroke="#000" stroke-width="1.3"/>
<text x="403.2" y="341.75" font-size="11" text-anchor="end" stroke="#000" stroke-width="0.2">0</text>
<line x1="424.5" y1="338" x2="424.5" y2="342.5" stroke="#000" stroke-width="1.3"/>
<line x1="442.5" y1="338" x2="442.5" y2="342.5" stroke="#000" stroke-width="1.3"/>
<line x1="460.75" y1="338" x2="460.75" y2="342.5" stroke="#000" stroke-width="1.3"/>
<line x1="479.2" y1="338" x2="479.2" y2="342.5" stroke="#000" stroke-width="1.3"/>
<line x1="497.1" y1="338" x2="497.1" y2="342.5" stroke="#000" stroke-width="1.3"/>
<text x="0" y="0" font-size="12.5" text-anchor="middle" stroke="#000" stroke-width="0.25" transform="translate(383.5 286.5) rotate(-90) scale(0.7372 1)">Tregs per μL (X10<tspan dy="-4.8" font-size="9.5">5</tspan><tspan dy="4.8">)</tspan></text>
<text x="428.5" y="351" font-size="10.5" text-anchor="end" transform="rotate(-45 428.5 351)" stroke="#000" stroke-width="0.2">vehicle</text>
<text x="446.5" y="351" font-size="10.5" text-anchor="end" transform="rotate(-45 446.5 351)" stroke="#000" stroke-width="0.2">umbralisib</text>
<text x="464.75" y="351" font-size="10.5" text-anchor="end" transform="rotate(-45 464.75 351)" stroke="#000" stroke-width="0.2">idelalisib</text>
<text x="483.2" y="351" font-size="10.5" text-anchor="end" transform="rotate(-45 483.2 351)" stroke="#000" stroke-width="0.2">duvelisib</text>
<text x="501.1" y="351" font-size="10.5" text-anchor="end" transform="rotate(-45 501.1 351)" stroke="#000" stroke-width="0.2">wild-type</text>
<line x1="424.5" y1="236.75" x2="479.25" y2="236.75" stroke="#111" stroke-width="1.35"/>
<polygon points="447.7,229.45 448.31,230.5 449.51,230.76 448.69,231.67 448.82,232.89 447.7,232.39 446.58,232.89 446.71,231.67 445.89,230.76 447.09,230.5" fill="#111"/>
<polygon points="452,229.45 452.61,230.5 453.81,230.76 452.99,231.67 453.12,232.89 452,232.39 450.88,232.89 451.01,231.67 450.19,230.76 451.39,230.5" fill="#111"/>
<polygon points="456.3,229.45 456.91,230.5 458.11,230.76 457.29,231.67 457.42,232.89 456.3,232.39 455.18,232.89 455.31,231.67 454.49,230.76 455.69,230.5" fill="#111"/>
<line x1="424.5" y1="249.5" x2="460.75" y2="249.5" stroke="#111" stroke-width="1.35"/>
<polygon points="438.2,242.2 438.81,243.25 440.01,243.51 439.19,244.42 439.32,245.64 438.2,245.14 437.08,245.64 437.21,244.42 436.39,243.51 437.59,243.25" fill="#111"/>
<polygon points="442.5,242.2 443.11,243.25 444.31,243.51 443.49,244.42 443.62,245.64 442.5,245.14 441.38,245.64 441.51,244.42 440.69,243.51 441.89,243.25" fill="#111"/>
<polygon points="446.8,242.2 447.41,243.25 448.61,243.51 447.79,244.42 447.92,245.64 446.8,245.14 445.68,245.64 445.81,244.42 444.99,243.51 446.19,243.25" fill="#111"/>
<line x1="424.5" y1="262" x2="442.5" y2="262" stroke="#111" stroke-width="1.35"/>
<polygon points="433.5,254.7 434.11,255.75 435.31,256.01 434.49,256.92 434.62,258.14 433.5,257.65 432.38,258.14 432.51,256.92 431.69,256.01 432.89,255.75" fill="#111"/>
<line x1="442.5" y1="288.25" x2="480" y2="288.25" stroke="#111" stroke-width="1.35"/>
<polygon points="461,280.95 461.61,282 462.81,282.26 461.99,283.17 462.12,284.39 461,283.9 459.88,284.39 460.01,283.17 459.19,282.26 460.39,282" fill="#111"/>
<line x1="442.5" y1="300.5" x2="461.75" y2="300.5" stroke="#111" stroke-width="1.35"/>
<polygon points="452,293.2 452.61,294.25 453.81,294.51 452.99,295.42 453.12,296.64 452,296.15 450.88,296.64 451.01,295.42 450.19,294.51 451.39,294.25" fill="#111"/>
<line x1="424.5" y1="282.6" x2="424.5" y2="313.7" stroke="#420c62" stroke-width="1.2"/>
<line x1="421.8" y1="282.6" x2="427.2" y2="282.6" stroke="#420c62" stroke-width="1.2"/>
<line x1="421.8" y1="313.7" x2="427.2" y2="313.7" stroke="#420c62" stroke-width="1.2"/>
<line x1="418.5" y1="298.2" x2="430.5" y2="298.2" stroke="#420c62" stroke-width="1.2"/>
<circle cx="424.2" cy="273.2" r="2.1" fill="#420c62"/>
<circle cx="421" cy="295.4" r="2.1" fill="#420c62"/>
<circle cx="427.3" cy="299.1" r="2.1" fill="#420c62"/>
<circle cx="427.3" cy="308.7" r="2.1" fill="#420c62"/>
<circle cx="421" cy="313.7" r="2.1" fill="#420c62"/>
<line x1="442.6" y1="312" x2="442.6" y2="314.5" stroke="#5ca332" stroke-width="1.2"/>
<line x1="439.9" y1="312" x2="445.3" y2="312" stroke="#5ca332" stroke-width="1.2"/>
<line x1="439.9" y1="314.5" x2="445.3" y2="314.5" stroke="#5ca332" stroke-width="1.2"/>
<line x1="436.6" y1="313.3" x2="448.6" y2="313.3" stroke="#5ca332" stroke-width="1.2"/>
<rect x="436.35" y="310.05" width="3.9" height="3.9" fill="#5ca332"/>
<rect x="444.55" y="310.05" width="3.9" height="3.9" fill="#5ca332"/>
<rect x="440.15" y="308.85" width="3.9" height="3.9" fill="#5ca332"/>
<rect x="440.45" y="313.85" width="3.9" height="3.9" fill="#5ca332"/>
<rect x="437.65" y="312.65" width="3.9" height="3.9" fill="#5ca332"/>
<line x1="461" y1="321.7" x2="461" y2="330.1" stroke="#a3022b" stroke-width="1.2"/>
<line x1="458.3" y1="321.7" x2="463.7" y2="321.7" stroke="#a3022b" stroke-width="1.2"/>
<line x1="458.3" y1="330.1" x2="463.7" y2="330.1" stroke="#a3022b" stroke-width="1.2"/>
<line x1="455" y1="326.3" x2="467" y2="326.3" stroke="#a3022b" stroke-width="1.2"/>
<path d="M457.8 320.04L460.06 324.13L455.54 324.13Z" fill="#a3022b"/>
<path d="M463.8 320.24L466.06 324.33L461.54 324.33Z" fill="#a3022b"/>
<path d="M461.5 325.84L463.76 329.93L459.24 329.93Z" fill="#a3022b"/>
<path d="M458.1 330.44L460.36 334.53L455.84 334.53Z" fill="#a3022b"/>
<line x1="478.8" y1="321.1" x2="478.8" y2="325.2" stroke="#16327c" stroke-width="1.2"/>
<line x1="476.1" y1="321.1" x2="481.5" y2="321.1" stroke="#16327c" stroke-width="1.2"/>
<line x1="476.1" y1="325.2" x2="481.5" y2="325.2" stroke="#16327c" stroke-width="1.2"/>
<line x1="473" y1="323.2" x2="484.6" y2="323.2" stroke="#16327c" stroke-width="1.2"/>
<path d="M475.4 321.86L477.66 317.77L473.14 317.77Z" fill="#16327c"/>
<path d="M480.6 323.36L482.86 319.27L478.34 319.27Z" fill="#16327c"/>
<path d="M477.7 327.46L479.96 323.37L475.44 323.37Z" fill="#16327c"/>
<path d="M480 327.76L482.26 323.67L477.74 323.67Z" fill="#16327c"/>
<line x1="497.1" y1="318.8" x2="497.1" y2="328.6" stroke="#f3a01f" stroke-width="1.2"/>
<line x1="494.7" y1="318.8" x2="499.5" y2="318.8" stroke="#f3a01f" stroke-width="1.2"/>
<line x1="494.7" y1="328.6" x2="499.5" y2="328.6" stroke="#f3a01f" stroke-width="1.2"/>
<line x1="491.3" y1="324" x2="502.9" y2="324" stroke="#f3a01f" stroke-width="1.2"/>
<path d="M497.1 314.4L499.3 316.6L497.1 318.8L494.9 316.6Z" fill="#f3a01f" stroke="#111" stroke-width="1.05" stroke-linejoin="round"/>
<path d="M493.6 322.4L495.8 324.6L493.6 326.8L491.4 324.6Z" fill="#f3a01f" stroke="#111" stroke-width="1.05" stroke-linejoin="round"/>
<path d="M500.5 323L502.7 325.2L500.5 327.4L498.3 325.2Z" fill="#f3a01f" stroke="#111" stroke-width="1.05" stroke-linejoin="round"/>
<path d="M497.1 327.4L499.3 329.6L497.1 331.8L494.9 329.6Z" fill="#f3a01f" stroke="#111" stroke-width="1.05" stroke-linejoin="round"/>
<text x="10.5" y="421.4" font-size="14.8" font-weight="bold" stroke="#000" stroke-width="0.85">G</text>
<line x1="68.75" y1="449.5" x2="68.75" y2="551.4" stroke="#000" stroke-width="1.6"/>
<line x1="67.95" y1="550.6" x2="214.3" y2="550.6" stroke="#000" stroke-width="1.6"/>
<line x1="64.45" y1="453" x2="68.75" y2="453" stroke="#000" stroke-width="1.3"/>
<text x="59.95" y="456.75" font-size="11" text-anchor="end" stroke="#000" stroke-width="0.2">12000</text>
<line x1="64.45" y1="469.27" x2="68.75" y2="469.27" stroke="#000" stroke-width="1.3"/>
<text x="59.95" y="473.02" font-size="11" text-anchor="end" stroke="#000" stroke-width="0.2">10000</text>
<line x1="64.45" y1="485.53" x2="68.75" y2="485.53" stroke="#000" stroke-width="1.3"/>
<text x="59.95" y="489.28" font-size="11" text-anchor="end" stroke="#000" stroke-width="0.2">8000</text>
<line x1="64.45" y1="501.8" x2="68.75" y2="501.8" stroke="#000" stroke-width="1.3"/>
<text x="59.95" y="505.55" font-size="11" text-anchor="end" stroke="#000" stroke-width="0.2">6000</text>
<line x1="64.45" y1="518.07" x2="68.75" y2="518.07" stroke="#000" stroke-width="1.3"/>
<text x="59.95" y="521.82" font-size="11" text-anchor="end" stroke="#000" stroke-width="0.2">4000</text>
<line x1="64.45" y1="534.33" x2="68.75" y2="534.33" stroke="#000" stroke-width="1.3"/>
<text x="59.95" y="538.08" font-size="11" text-anchor="end" stroke="#000" stroke-width="0.2">2000</text>
<line x1="64.45" y1="550.6" x2="68.75" y2="550.6" stroke="#000" stroke-width="1.3"/>
<text x="59.95" y="554.35" font-size="11" text-anchor="end" stroke="#000" stroke-width="0.2">0</text>
<line x1="92.2" y1="550.6" x2="92.2" y2="555.1" stroke="#000" stroke-width="1.3"/>
<line x1="141.7" y1="550.6" x2="141.7" y2="555.1" stroke="#000" stroke-width="1.3"/>
<line x1="191.4" y1="550.6" x2="191.4" y2="555.1" stroke="#000" stroke-width="1.3"/>
<text x="0" y="0" font-size="12.5" text-anchor="middle" stroke="#000" stroke-width="0.25" transform="translate(21.4 501) rotate(-90) scale(0.7465 1)">Expression on tregs (MFI)</text>
<text x="91.2" y="568.9" font-size="11.1" text-anchor="middle" stroke="#000" stroke-width="0.2">TGFβ-1</text>
<text x="141.6" y="568.9" font-size="11.1" text-anchor="middle" stroke="#000" stroke-width="0.2">GITR</text>
<text x="191.7" y="568.9" font-size="11.1" text-anchor="middle" stroke="#000" stroke-width="0.2">CD73</text>
<line x1="77" y1="438.3" x2="109.7" y2="438.3" stroke="#111" stroke-width="1.35"/>
<polygon points="88.7,431 89.31,432.05 90.51,432.31 89.69,433.22 89.82,434.44 88.7,433.95 87.58,434.44 87.71,433.22 86.89,432.31 88.09,432.05" fill="#111"/>
<polygon points="93,431 93.61,432.05 94.81,432.31 93.99,433.22 94.12,434.44 93,433.95 91.88,434.44 92.01,433.22 91.19,432.31 92.39,432.05" fill="#111"/>
<polygon points="97.3,431 97.91,432.05 99.11,432.31 98.29,433.22 98.42,434.44 97.3,433.95 96.18,434.44 96.31,433.22 95.49,432.31 96.69,432.05" fill="#111"/>
<line x1="76.2" y1="450.8" x2="96.3" y2="450.8" stroke="#111" stroke-width="1.35"/>
<polygon points="81.7,443.5 82.31,444.55 83.51,444.81 82.69,445.72 82.82,446.94 81.7,446.45 80.58,446.94 80.71,445.72 79.89,444.81 81.09,444.55" fill="#111"/>
<polygon points="86,443.5 86.61,444.55 87.81,444.81 86.99,445.72 87.12,446.94 86,446.45 84.88,446.94 85.01,445.72 84.19,444.81 85.39,444.55" fill="#111"/>
<polygon points="90.3,443.5 90.91,444.55 92.11,444.81 91.29,445.72 91.42,446.94 90.3,446.45 89.18,446.94 89.31,445.72 88.49,444.81 89.69,444.55" fill="#111"/>
<line x1="76.2" y1="463.4" x2="88.3" y2="463.4" stroke="#111" stroke-width="1.35"/>
<text x="82" y="460.6" font-size="9.8" text-anchor="middle" font-style="italic" fill="#111" stroke="#111" stroke-width="0.2">ns</text>
<line x1="87.75" y1="479.5" x2="109" y2="479.5" stroke="#111" stroke-width="1.35"/>
<polygon points="96.35,472.2 96.96,473.25 98.16,473.51 97.34,474.42 97.47,475.64 96.35,475.15 95.23,475.64 95.36,474.42 94.54,473.51 95.74,473.25" fill="#111"/>
<polygon points="100.65,472.2 101.26,473.25 102.46,473.51 101.64,474.42 101.77,475.64 100.65,475.15 99.53,475.64 99.66,474.42 98.84,473.51 100.04,473.25" fill="#111"/>
<line x1="87.75" y1="492.3" x2="98.5" y2="492.3" stroke="#111" stroke-width="1.35"/>
<polygon points="90.85,485 91.46,486.05 92.66,486.31 91.84,487.22 91.97,488.44 90.85,487.95 89.73,488.44 89.86,487.22 89.04,486.31 90.24,486.05" fill="#111"/>
<polygon points="95.15,485 95.76,486.05 96.96,486.31 96.14,487.22 96.27,488.44 95.15,487.95 94.03,488.44 94.16,487.22 93.34,486.31 94.54,486.05" fill="#111"/>
<line x1="125.4" y1="446.7" x2="158.7" y2="446.7" stroke="#111" stroke-width="1.35"/>
<polygon points="142,439.4 142.61,440.45 143.81,440.71 142.99,441.62 143.12,442.84 142,442.35 140.88,442.84 141.01,441.62 140.19,440.71 141.39,440.45" fill="#111"/>
<line x1="125.4" y1="459.5" x2="146.6" y2="459.5" stroke="#111" stroke-width="1.35"/>
<polygon points="136,452.2 136.61,453.25 137.81,453.51 136.99,454.42 137.12,455.64 136,455.15 134.88,455.64 135.01,454.42 134.19,453.51 135.39,453.25" fill="#111"/>
<line x1="125.4" y1="471.6" x2="137.8" y2="471.6" stroke="#111" stroke-width="1.35"/>
<text x="131.5" y="468.8" font-size="9.8" text-anchor="middle" font-style="italic" fill="#111" stroke="#111" stroke-width="0.2">ns</text>
<line x1="136.2" y1="484.4" x2="158" y2="484.4" stroke="#111" stroke-width="1.35"/>
<polygon points="147,477.1 147.61,478.15 148.81,478.41 147.99,479.32 148.12,480.54 147,480.05 145.88,480.54 146.01,479.32 145.19,478.41 146.39,478.15" fill="#111"/>
<line x1="136.2" y1="497.1" x2="147.6" y2="497.1" stroke="#111" stroke-width="1.35"/>
<polygon points="142,489.8 142.61,490.85 143.81,491.11 142.99,492.02 143.12,493.24 142,492.75 140.88,493.24 141.01,492.02 140.19,491.11 141.39,490.85" fill="#111"/>
<line x1="176" y1="425.25" x2="209.75" y2="425.25" stroke="#111" stroke-width="1.35"/>
<text x="193.1" y="422.45" font-size="9.8" text-anchor="middle" font-style="italic" fill="#111" stroke="#111" stroke-width="0.2">ns</text>
<line x1="176" y1="437.25" x2="196.9" y2="437.25" stroke="#111" stroke-width="1.35"/>
<text x="186.6" y="434.45" font-size="9.8" text-anchor="middle" font-style="italic" fill="#111" stroke="#111" stroke-width="0.2">ns</text>
<line x1="176" y1="450.25" x2="188.75" y2="450.25" stroke="#111" stroke-width="1.35"/>
<text x="182.25" y="447.45" font-size="9.8" text-anchor="middle" font-style="italic" fill="#111" stroke="#111" stroke-width="0.2">ns</text>
<line x1="186" y1="470" x2="208.75" y2="470" stroke="#111" stroke-width="1.35"/>
<polygon points="197.5,462.7 198.11,463.75 199.31,464.01 198.49,464.92 198.62,466.14 197.5,465.65 196.38,466.14 196.51,464.92 195.69,464.01 196.89,463.75" fill="#111"/>
<line x1="185.9" y1="482.4" x2="197.3" y2="482.4" stroke="#111" stroke-width="1.35"/>
<text x="191.5" y="479.6" font-size="9.8" text-anchor="middle" font-style="italic" fill="#111" stroke="#111" stroke-width="0.2">ns</text>
<line x1="75.6" y1="469.5" x2="75.6" y2="502.5" stroke="#420c62" stroke-width="1.2"/>
<line x1="73.2" y1="469.5" x2="78" y2="469.5" stroke="#420c62" stroke-width="1.2"/>
<line x1="73.2" y1="502.5" x2="78" y2="502.5" stroke="#420c62" stroke-width="1.2"/>
<line x1="72.2" y1="485.6" x2="79" y2="485.6" stroke="#420c62" stroke-width="1.2"/>
<circle cx="72.8" cy="477.5" r="2.1" fill="#420c62"/>
<circle cx="75.1" cy="478.3" r="2.1" fill="#420c62"/>
<circle cx="77.8" cy="478.7" r="2.1" fill="#420c62"/>
<circle cx="79.9" cy="478.3" r="2.1" fill="#420c62"/>
<circle cx="75.6" cy="515.9" r="2.1" fill="#420c62"/>
<line x1="86.7" y1="502" x2="86.7" y2="511" stroke="#5ca332" stroke-width="1.2"/>
<line x1="84.5" y1="502" x2="88.9" y2="502" stroke="#5ca332" stroke-width="1.2"/>
<line x1="84.5" y1="511" x2="88.9" y2="511" stroke="#5ca332" stroke-width="1.2"/>
<line x1="83.3" y1="506.8" x2="90.1" y2="506.8" stroke="#5ca332" stroke-width="1.2"/>
<rect x="84.75" y="496.15" width="3.9" height="3.9" fill="#5ca332"/>
<rect x="84.75" y="500.05" width="3.9" height="3.9" fill="#5ca332"/>
<rect x="83.25" y="504.05" width="3.9" height="3.9" fill="#5ca332"/>
<rect x="86.25" y="504.85" width="3.9" height="3.9" fill="#5ca332"/>
<rect x="84.75" y="508.55" width="3.9" height="3.9" fill="#5ca332"/>
<rect x="84.75" y="510.45" width="3.9" height="3.9" fill="#5ca332"/>
<line x1="97.4" y1="534.6" x2="97.4" y2="542.5" stroke="#a3022b" stroke-width="1.2"/>
<line x1="95.2" y1="534.6" x2="99.6" y2="534.6" stroke="#a3022b" stroke-width="1.2"/>
<line x1="95.2" y1="542.5" x2="99.6" y2="542.5" stroke="#a3022b" stroke-width="1.2"/>
<line x1="94" y1="538.6" x2="100.8" y2="538.6" stroke="#a3022b" stroke-width="1.2"/>
<path d="M94.2 531.54L96.46 535.63L91.94 535.63Z" fill="#a3022b"/>
<path d="M97.4 531.54L99.66 535.63L95.14 535.63Z" fill="#a3022b"/>
<path d="M100.5 531.54L102.76 535.63L98.24 535.63Z" fill="#a3022b"/>
<path d="M97.4 535.54L99.66 539.63L95.14 539.63Z" fill="#a3022b"/>
<path d="M97.4 542.64L99.66 546.73L95.14 546.73Z" fill="#a3022b"/>
<line x1="107.7" y1="521.1" x2="107.7" y2="529.8" stroke="#16327c" stroke-width="1.2"/>
<line x1="105.5" y1="521.1" x2="109.9" y2="521.1" stroke="#16327c" stroke-width="1.2"/>
<line x1="105.5" y1="529.8" x2="109.9" y2="529.8" stroke="#16327c" stroke-width="1.2"/>
<line x1="104.3" y1="525.1" x2="111.1" y2="525.1" stroke="#16327c" stroke-width="1.2"/>
<path d="M104.8 523.36L107.06 519.27L102.54 519.27Z" fill="#16327c"/>
<path d="M110.1 523.36L112.36 519.27L107.84 519.27Z" fill="#16327c"/>
<path d="M107.7 528.16L109.96 524.07L105.44 524.07Z" fill="#16327c"/>
<path d="M107.7 532.06L109.96 527.97L105.44 527.97Z" fill="#16327c"/>
<path d="M107.7 534.46L109.96 530.37L105.44 530.37Z" fill="#16327c"/>
<line x1="125.4" y1="505.2" x2="125.4" y2="512.9" stroke="#420c62" stroke-width="1.2"/>
<line x1="123.2" y1="505.2" x2="127.6" y2="505.2" stroke="#420c62" stroke-width="1.2"/>
<line x1="123.2" y1="512.9" x2="127.6" y2="512.9" stroke="#420c62" stroke-width="1.2"/>
<line x1="122.1" y1="509" x2="128.7" y2="509" stroke="#420c62" stroke-width="1.2"/>
<circle cx="125.4" cy="502" r="2.1" fill="#420c62"/>
<circle cx="126.9" cy="506.3" r="2.1" fill="#420c62"/>
<circle cx="123.9" cy="508.5" r="2.1" fill="#420c62"/>
<circle cx="125.4" cy="512.9" r="2.1" fill="#420c62"/>
<circle cx="125.4" cy="517.2" r="2.1" fill="#420c62"/>
<line x1="136.3" y1="506.5" x2="136.3" y2="514.5" stroke="#5ca332" stroke-width="1.2"/>
<line x1="134.1" y1="506.5" x2="138.5" y2="506.5" stroke="#5ca332" stroke-width="1.2"/>
<line x1="134.1" y1="514.5" x2="138.5" y2="514.5" stroke="#5ca332" stroke-width="1.2"/>
<line x1="133" y1="510.7" x2="139.6" y2="510.7" stroke="#5ca332" stroke-width="1.2"/>
<rect x="134.35" y="499.45" width="3.9" height="3.9" fill="#5ca332"/>
<rect x="134.35" y="505.45" width="3.9" height="3.9" fill="#5ca332"/>
<rect x="133.35" y="508.75" width="3.9" height="3.9" fill="#5ca332"/>
<rect x="135.35" y="511.45" width="3.9" height="3.9" fill="#5ca332"/>
<rect x="134.35" y="515.75" width="3.9" height="3.9" fill="#5ca332"/>
<line x1="146.8" y1="522.6" x2="146.8" y2="530.8" stroke="#a3022b" stroke-width="1.2"/>
<line x1="144.6" y1="522.6" x2="149" y2="522.6" stroke="#a3022b" stroke-width="1.2"/>
<line x1="144.6" y1="530.8" x2="149" y2="530.8" stroke="#a3022b" stroke-width="1.2"/>
<line x1="142.5" y1="529.2" x2="151.1" y2="529.2" stroke="#a3022b" stroke-width="1.2"/>
<path d="M146.8 517.64L149.06 521.73L144.54 521.73Z" fill="#a3022b"/>
<path d="M143.5 526.94L145.76 531.03L141.24 531.03Z" fill="#a3022b"/>
<path d="M146.8 526.34L149.06 530.43L144.54 530.43Z" fill="#a3022b"/>
<path d="M150.1 527.14L152.36 531.23L147.84 531.23Z" fill="#a3022b"/>
<path d="M146.8 528.74L149.06 532.83L144.54 532.83Z" fill="#a3022b"/>
<line x1="157.4" y1="522.1" x2="157.4" y2="527.5" stroke="#16327c" stroke-width="1.2"/>
<line x1="155.2" y1="522.1" x2="159.6" y2="522.1" stroke="#16327c" stroke-width="1.2"/>
<line x1="155.2" y1="527.5" x2="159.6" y2="527.5" stroke="#16327c" stroke-width="1.2"/>
<line x1="153.1" y1="524.8" x2="161.7" y2="524.8" stroke="#16327c" stroke-width="1.2"/>
<path d="M156.6 524.36L158.86 520.27L154.34 520.27Z" fill="#16327c"/>
<path d="M153.9 526.56L156.16 522.47L151.64 522.47Z" fill="#16327c"/>
<path d="M161 526.56L163.26 522.47L158.74 522.47Z" fill="#16327c"/>
<path d="M157.2 531.96L159.46 527.87L154.94 527.87Z" fill="#16327c"/>
<line x1="175.4" y1="476" x2="175.4" y2="528.6" stroke="#420c62" stroke-width="1.2"/>
<line x1="173.2" y1="476" x2="177.6" y2="476" stroke="#420c62" stroke-width="1.2"/>
<line x1="173.2" y1="528.6" x2="177.6" y2="528.6" stroke="#420c62" stroke-width="1.2"/>
<line x1="171.9" y1="502.3" x2="178.9" y2="502.3" stroke="#420c62" stroke-width="1.2"/>
<circle cx="175.4" cy="455.6" r="2.1" fill="#420c62"/>
<circle cx="175.4" cy="509.3" r="2.1" fill="#420c62"/>
<circle cx="175.4" cy="514.6" r="2.1" fill="#420c62"/>
<circle cx="175.4" cy="521.9" r="2.1" fill="#420c62"/>
<line x1="185.9" y1="488.9" x2="185.9" y2="510.5" stroke="#5ca332" stroke-width="1.2"/>
<line x1="183.7" y1="488.9" x2="188.1" y2="488.9" stroke="#5ca332" stroke-width="1.2"/>
<line x1="183.7" y1="510.5" x2="188.1" y2="510.5" stroke="#5ca332" stroke-width="1.2"/>
<line x1="182.4" y1="499.1" x2="189.4" y2="499.1" stroke="#5ca332" stroke-width="1.2"/>
<rect x="183.95" y="484.55" width="3.9" height="3.9" fill="#5ca332"/>
<rect x="183.95" y="492.75" width="3.9" height="3.9" fill="#5ca332"/>
<rect x="184.95" y="495.05" width="3.9" height="3.9" fill="#5ca332"/>
<rect x="183.45" y="497.55" width="3.9" height="3.9" fill="#5ca332"/>
<rect x="183.95" y="514.75" width="3.9" height="3.9" fill="#5ca332"/>
<line x1="196.9" y1="512.8" x2="196.9" y2="531.6" stroke="#a3022b" stroke-width="1.2"/>
<line x1="194.7" y1="512.8" x2="199.1" y2="512.8" stroke="#a3022b" stroke-width="1.2"/>
<line x1="194.7" y1="531.6" x2="199.1" y2="531.6" stroke="#a3022b" stroke-width="1.2"/>
<line x1="193.4" y1="522.3" x2="200.4" y2="522.3" stroke="#a3022b" stroke-width="1.2"/>
<path d="M196.9 504.74L199.16 508.83L194.64 508.83Z" fill="#a3022b"/>
<path d="M196.9 521.44L199.16 525.53L194.64 525.53Z" fill="#a3022b"/>
<path d="M196.9 524.94L199.16 529.03L194.64 529.03Z" fill="#a3022b"/>
<path d="M196.9 528.74L199.16 532.83L194.64 532.83Z" fill="#a3022b"/>
<line x1="207.5" y1="515.8" x2="207.5" y2="521" stroke="#16327c" stroke-width="1.2"/>
<line x1="205.3" y1="515.8" x2="209.7" y2="515.8" stroke="#16327c" stroke-width="1.2"/>
<line x1="205.3" y1="521" x2="209.7" y2="521" stroke="#16327c" stroke-width="1.2"/>
<line x1="203.6" y1="518.4" x2="211.4" y2="518.4" stroke="#16327c" stroke-width="1.2"/>
<path d="M204.8 516.26L207.06 512.17L202.54 512.17Z" fill="#16327c"/>
<path d="M209.2 518.56L211.46 514.47L206.94 514.47Z" fill="#16327c"/>
<path d="M207.5 521.56L209.76 517.47L205.24 517.47Z" fill="#16327c"/>
<path d="M207.5 526.86L209.76 522.77L205.24 522.77Z" fill="#16327c"/>
<circle cx="262.5" cy="476.9" r="1.85" fill="#420c62"/>
<text x="269.2" y="479.8" font-size="9.8" stroke="#000" stroke-width="0.2">vehicle</text>
<rect x="260.75" y="490.55" width="3.51" height="3.51" fill="#5ca332"/>
<text x="269.2" y="495.6" font-size="9.8" stroke="#000" stroke-width="0.2">umbralisib</text>
<path d="M262.5 505.18L264.42 508.65L260.58 508.65Z" fill="#a3022b"/>
<text x="269.2" y="510.4" font-size="9.8" stroke="#000" stroke-width="0.2">idelalisib</text>
<path d="M262.5 524.42L264.42 520.95L260.58 520.95Z" fill="#16327c"/>
<text x="269.2" y="525.4" font-size="9.8" stroke="#000" stroke-width="0.2">duvelisib</text>
<text x="359.6" y="421.4" font-size="14.8" font-weight="bold" stroke="#000" stroke-width="0.85">H</text>
<text x="461" y="435.7" font-size="12.5" text-anchor="middle" stroke="#000" stroke-width="0.2">IL-10</text>
<line x1="412.5" y1="450" x2="412.5" y2="551.55" stroke="#000" stroke-width="1.6"/>
<line x1="411.7" y1="550.75" x2="510" y2="550.75" stroke="#000" stroke-width="1.6"/>
<line x1="408.2" y1="452.5" x2="412.5" y2="452.5" stroke="#000" stroke-width="1.3"/>
<text x="403.7" y="456.25" font-size="11" text-anchor="end" stroke="#000" stroke-width="0.2">2500</text>
<line x1="408.2" y1="472.15" x2="412.5" y2="472.15" stroke="#000" stroke-width="1.3"/>
<text x="403.7" y="475.9" font-size="11" text-anchor="end" stroke="#000" stroke-width="0.2">2000</text>
<line x1="408.2" y1="491.8" x2="412.5" y2="491.8" stroke="#000" stroke-width="1.3"/>
<text x="403.7" y="495.55" font-size="11" text-anchor="end" stroke="#000" stroke-width="0.2">1500</text>
<line x1="408.2" y1="511.45" x2="412.5" y2="511.45" stroke="#000" stroke-width="1.3"/>
<text x="403.7" y="515.2" font-size="11" text-anchor="end" stroke="#000" stroke-width="0.2">1000</text>
<line x1="408.2" y1="531.1" x2="412.5" y2="531.1" stroke="#000" stroke-width="1.3"/>
<text x="403.7" y="534.85" font-size="11" text-anchor="end" stroke="#000" stroke-width="0.2">500</text>
<line x1="408.2" y1="550.75" x2="412.5" y2="550.75" stroke="#000" stroke-width="1.3"/>
<text x="403.7" y="554.5" font-size="11" text-anchor="end" stroke="#000" stroke-width="0.2">0</text>
<line x1="427.2" y1="550.75" x2="427.2" y2="555.25" stroke="#000" stroke-width="1.3"/>
<line x1="449.8" y1="550.75" x2="449.8" y2="555.25" stroke="#000" stroke-width="1.3"/>
<line x1="472.3" y1="550.75" x2="472.3" y2="555.25" stroke="#000" stroke-width="1.3"/>
<line x1="494.8" y1="550.75" x2="494.8" y2="555.25" stroke="#000" stroke-width="1.3"/>
<text x="0" y="0" font-size="12.5" text-anchor="middle" stroke="#000" stroke-width="0.25" transform="translate(370.4 500.3) rotate(-90) scale(0.7448 1)">Concentration (pg/mL)</text>
<text x="431.2" y="563.5" font-size="10.5" text-anchor="end" transform="rotate(-45 431.2 563.5)" stroke="#000" stroke-width="0.2">vehicle</text>
<text x="453.8" y="563.5" font-size="10.5" text-anchor="end" transform="rotate(-45 453.8 563.5)" stroke="#000" stroke-width="0.2">umbra</text>
<text x="476.3" y="563.5" font-size="10.5" text-anchor="end" transform="rotate(-45 476.3 563.5)" stroke="#000" stroke-width="0.2">idela</text>
<text x="498.8" y="563.5" font-size="10.5" text-anchor="end" transform="rotate(-45 498.8 563.5)" stroke="#000" stroke-width="0.2">duv</text>
<line x1="427" y1="452" x2="493.75" y2="452" stroke="#111" stroke-width="1.35"/>
<polygon points="458.35,444.7 458.96,445.75 460.16,446.01 459.34,446.92 459.47,448.14 458.35,447.65 457.23,448.14 457.36,446.92 456.54,446.01 457.74,445.75" fill="#111"/>
<polygon points="462.65,444.7 463.26,445.75 464.46,446.01 463.64,446.92 463.77,448.14 462.65,447.65 461.53,448.14 461.66,446.92 460.84,446.01 462.04,445.75" fill="#111"/>
<line x1="427" y1="465" x2="471.25" y2="465" stroke="#111" stroke-width="1.35"/>
<polygon points="446.85,457.7 447.46,458.75 448.66,459.01 447.84,459.92 447.97,461.14 446.85,460.65 445.73,461.14 445.86,459.92 445.04,459.01 446.24,458.75" fill="#111"/>
<polygon points="451.15,457.7 451.76,458.75 452.96,459.01 452.14,459.92 452.27,461.14 451.15,460.65 450.03,461.14 450.16,459.92 449.34,459.01 450.54,458.75" fill="#111"/>
<line x1="427" y1="477.5" x2="452.5" y2="477.5" stroke="#111" stroke-width="1.35"/>
<text x="440" y="474.7" font-size="9.8" text-anchor="middle" font-style="italic" fill="#111" stroke="#111" stroke-width="0.2">ns</text>
<line x1="450.75" y1="483" x2="494.5" y2="483" stroke="#111" stroke-width="1.35"/>
<polygon points="472.5,475.7 473.11,476.75 474.31,477.01 473.49,477.92 473.62,479.14 472.5,478.65 471.38,479.14 471.51,477.92 470.69,477.01 471.89,476.75" fill="#111"/>
<line x1="450.75" y1="495" x2="475.5" y2="495" stroke="#111" stroke-width="1.35"/>
<polygon points="463,487.7 463.61,488.75 464.81,489.01 463.99,489.92 464.12,491.14 463,490.65 461.88,491.14 462.01,489.92 461.19,489.01 462.39,488.75" fill="#111"/>
<line x1="427.2" y1="486" x2="427.2" y2="509.5" stroke="#420c62" stroke-width="1.2"/>
<line x1="424" y1="486" x2="430.4" y2="486" stroke="#420c62" stroke-width="1.2"/>
<line x1="424" y1="509.5" x2="430.4" y2="509.5" stroke="#420c62" stroke-width="1.2"/>
<line x1="419.7" y1="498" x2="434.7" y2="498" stroke="#420c62" stroke-width="1.2"/>
<circle cx="426.8" cy="483.8" r="2.1" fill="#420c62"/>
<circle cx="430.3" cy="502.8" r="2.1" fill="#420c62"/>
<circle cx="424" cy="506.5" r="2.1" fill="#420c62"/>
<line x1="449.8" y1="502.3" x2="449.8" y2="519.6" stroke="#5ca332" stroke-width="1.2"/>
<line x1="446.2" y1="502.3" x2="453.4" y2="502.3" stroke="#5ca332" stroke-width="1.2"/>
<line x1="446.2" y1="519.6" x2="453.4" y2="519.6" stroke="#5ca332" stroke-width="1.2"/>
<line x1="442.3" y1="511" x2="457.3" y2="511" stroke="#5ca332" stroke-width="1.2"/>
<rect x="447.85" y="501.75" width="3.9" height="3.9" fill="#5ca332"/>
<rect x="447.85" y="507.05" width="3.9" height="3.9" fill="#5ca332"/>
<rect x="447.85" y="519.05" width="3.9" height="3.9" fill="#5ca332"/>
<line x1="472.3" y1="535.2" x2="472.3" y2="544" stroke="#a3022b" stroke-width="1.2"/>
<line x1="469.1" y1="535.2" x2="475.5" y2="535.2" stroke="#a3022b" stroke-width="1.2"/>
<line x1="469.1" y1="544" x2="475.5" y2="544" stroke="#a3022b" stroke-width="1.2"/>
<line x1="464.7" y1="539.1" x2="479.9" y2="539.1" stroke="#a3022b" stroke-width="1.2"/>
<path d="M472.3 531.14L474.56 535.23L470.04 535.23Z" fill="#a3022b"/>
<path d="M469.3 542.14L471.56 546.23L467.04 546.23Z" fill="#a3022b"/>
<path d="M474.9 539.64L477.16 543.73L472.64 543.73Z" fill="#a3022b"/>
<line x1="494.8" y1="526.3" x2="494.8" y2="537" stroke="#16327c" stroke-width="1.2"/>
<line x1="491.6" y1="526.3" x2="498" y2="526.3" stroke="#16327c" stroke-width="1.2"/>
<line x1="491.6" y1="537" x2="498" y2="537" stroke="#16327c" stroke-width="1.2"/>
<line x1="487.3" y1="532.5" x2="502.3" y2="532.5" stroke="#16327c" stroke-width="1.2"/>
<path d="M494.8 528.26L497.06 524.17L492.54 524.17Z" fill="#16327c"/>
<path d="M491.8 537.46L494.06 533.37L489.54 533.37Z" fill="#16327c"/>
<path d="M496.2 537.46L498.46 533.37L493.94 533.37Z" fill="#16327c"/>
</svg>
</body></html>
